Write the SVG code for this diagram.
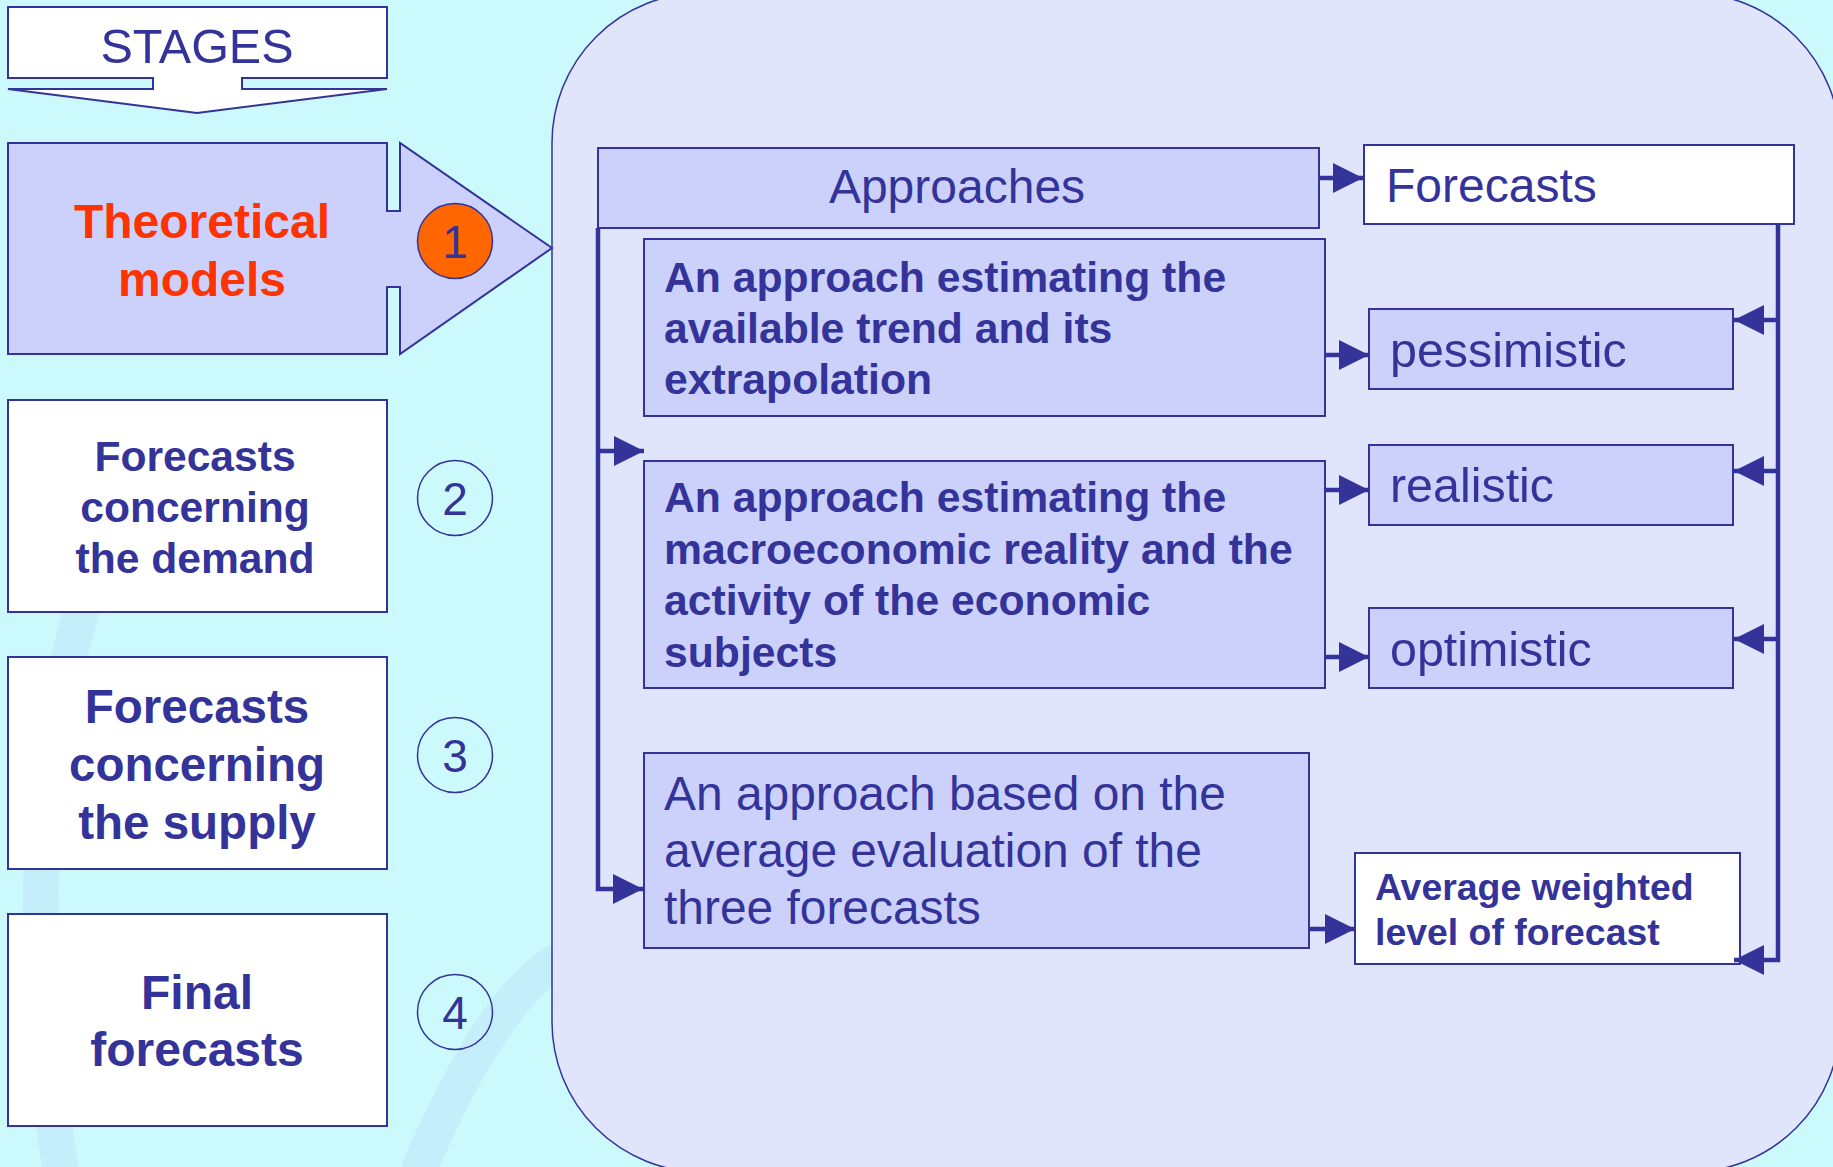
<svg xmlns="http://www.w3.org/2000/svg" width="1833" height="1167" viewBox="0 0 1833 1167">
<style>
.stg{fill:#ffffff;stroke:#333399;stroke-width:2}
.lav{fill:#ccd1fb;stroke:#333399;stroke-width:2}
.wht{fill:#ffffff;stroke:#333399;stroke-width:2}
.t{font-family:"Liberation Sans",Arial,sans-serif;fill:#333399}
.b{font-weight:bold}
.c{text-anchor:middle}
.num{fill:none;stroke:#333399;stroke-width:1.5}
.con{fill:none;stroke:#333399;stroke-width:4.5}
.deco{fill:none;stroke:#c5eefb;stroke-linecap:round}
</style>
<defs>
<marker id="ah" markerUnits="userSpaceOnUse" markerWidth="30" markerHeight="30" viewBox="0 0 30 30" refX="30" refY="15" orient="auto">
<path d="M0,0 L30,15 L0,30 Z" fill="#333399"/>
</marker>
</defs>
<rect x="0" y="0" width="1833" height="1167" fill="#ccfafc"/>
<g id="background-decor">
<path class="deco" stroke-width="36" d="M60,1167 C20,900 40,650 140,470"/>
<path class="deco" stroke-width="36" d="M420,1167 C470,1050 520,980 560,960"/>
</g>
<g id="panel">
<rect x="552" y="-7" width="1288" height="1179" rx="150" ry="150" fill="#e0e5fc" stroke="#333399" stroke-width="1.5"/>
</g>
<g id="stages">
<path class="stg" d="M8,7 H387 V78 H242 V89 H387 L197,113 L8,89 H153 V78 H8 Z"/>
<text class="t c" x="197" y="63" font-size="48.5">STAGES</text>
</g>
<g id="stage1">
<path class="lav" d="M8,143 H387 V211 H400 V143 L552,248 L400,354 V287 H387 V354 H8 Z"/>
<text class="t c b" x="202" y="238" font-size="48" style="fill:#ff3300">Theoretical</text>
<text class="t c b" x="202" y="296" font-size="48" style="fill:#ff3300">models</text>
</g>
<g id="num1">
<circle cx="455" cy="241" r="37.5" fill="#ff6600" stroke="#333399" stroke-width="1.5"/>
<text class="t c" x="455" y="258" font-size="46">1</text>
</g>
<g id="stage2">
<rect class="wht" x="8" y="400" width="379" height="212"/>
<text class="t c b" x="195" y="471" font-size="42.6">Forecasts</text>
<text class="t c b" x="195" y="522" font-size="42.6">concerning</text>
<text class="t c b" x="195" y="573" font-size="42.6">the demand</text>
</g>
<g id="num2">
<circle class="num" cx="455" cy="498" r="37.5"/>
<text class="t c" x="455" y="515" font-size="46">2</text>
</g>
<g id="stage3">
<rect class="wht" x="8" y="657" width="379" height="212"/>
<text class="t c b" x="197" y="723" font-size="47.5">Forecasts</text>
<text class="t c b" x="197" y="781" font-size="47.5">concerning</text>
<text class="t c b" x="197" y="839" font-size="47.5">the supply</text>
</g>
<g id="num3">
<circle class="num" cx="455" cy="755" r="37.5"/>
<text class="t c" x="455" y="772" font-size="46">3</text>
</g>
<g id="stage4">
<rect class="wht" x="8" y="914" width="379" height="212"/>
<text class="t c b" x="197" y="1009" font-size="48">Final</text>
<text class="t c b" x="197" y="1066" font-size="48">forecasts</text>
</g>
<g id="num4">
<circle class="num" cx="455" cy="1012" r="37.5"/>
<text class="t c" x="455" y="1029" font-size="46">4</text>
</g>
<g id="approaches">
<rect class="lav" x="598" y="148" width="721" height="80"/>
<text class="t c" x="957" y="203" font-size="48">Approaches</text>
</g>
<g id="forecasts-head">
<rect class="wht" x="1364" y="145" width="430" height="79"/>
<text class="t" x="1386" y="202" font-size="48">Forecasts</text>
</g>
<g id="approach1">
<rect class="lav" x="644" y="239" width="681" height="177"/>
<text class="t b" x="664" y="292" font-size="42.7">An approach estimating the</text>
<text class="t b" x="664" y="343" font-size="42.7">available trend and its</text>
<text class="t b" x="664" y="394" font-size="42.7">extrapolation</text>
</g>
<g id="approach2">
<rect class="lav" x="644" y="461" width="681" height="227"/>
<text class="t b" x="664" y="512" font-size="42.7">An approach estimating the</text>
<text class="t b" x="664" y="564" font-size="42.7">macroeconomic reality and the</text>
<text class="t b" x="664" y="615" font-size="42.7">activity of the economic</text>
<text class="t b" x="664" y="667" font-size="42.7">subjects</text>
</g>
<g id="approach3">
<rect class="lav" x="644" y="753" width="665" height="195"/>
<text class="t" x="664" y="810" font-size="47.9">An approach based on the</text>
<text class="t" x="664" y="867" font-size="47.9">average evaluation of the</text>
<text class="t" x="664" y="924" font-size="47.9">three forecasts</text>
</g>
<g id="pessimistic">
<rect class="lav" x="1369" y="309" width="364" height="80"/>
<text class="t" x="1390" y="367" font-size="48.4">pessimistic</text>
</g>
<g id="realistic">
<rect class="lav" x="1369" y="445" width="364" height="80"/>
<text class="t" x="1390" y="502" font-size="48.4">realistic</text>
</g>
<g id="optimistic">
<rect class="lav" x="1369" y="608" width="364" height="80"/>
<text class="t" x="1390" y="666" font-size="48.4">optimistic</text>
</g>
<g id="average">
<rect class="wht" x="1355" y="853" width="385" height="111"/>
<text class="t b" x="1375" y="900" font-size="37.4">Average weighted</text>
<text class="t b" x="1375" y="945" font-size="37.4">level of forecast</text>
</g>
<g id="connectors">
<path class="con" d="M1319,178 H1363" marker-end="url(#ah)"/>
<path class="con" d="M598,228 V889 H643" marker-end="url(#ah)"/>
<path class="con" d="M598,451 H644" marker-end="url(#ah)"/>
<path class="con" d="M1325,355 H1369" marker-end="url(#ah)"/>
<path class="con" d="M1325,490 H1369" marker-end="url(#ah)"/>
<path class="con" d="M1325,657 H1369" marker-end="url(#ah)"/>
<path class="con" d="M1309,929 H1355" marker-end="url(#ah)"/>
<path class="con" d="M1778,224 V960 H1734" marker-end="url(#ah)"/>
<path class="con" d="M1778,320 H1734" marker-end="url(#ah)"/>
<path class="con" d="M1778,471 H1734" marker-end="url(#ah)"/>
<path class="con" d="M1778,639 H1734" marker-end="url(#ah)"/>
</g>
</svg>
